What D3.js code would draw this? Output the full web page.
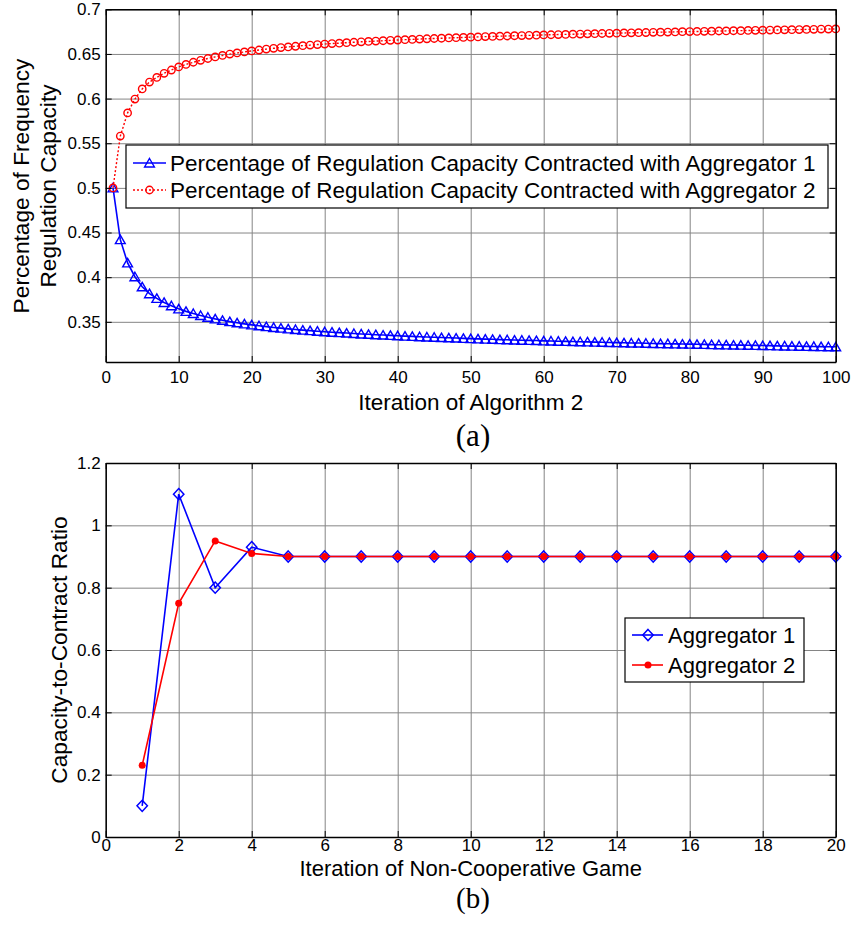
<!DOCTYPE html>
<html>
<head>
<meta charset="utf-8">
<script src="https://cdn.jsdelivr.net/npm/d3@7"></script>
<style>
  body { margin: 0; background: #fff; }
  svg text { font-family: "Liberation Sans", Arial, Helvetica, sans-serif; fill: #000; }
  svg text.caption { font-family: "Liberation Serif", "Times New Roman", serif; }
</style>
</head>
<body>
<svg id="chart" width="851" height="926"></svg>
<script>
// (a) share of regulation capacity per iteration of algorithm 2 (iterations 1..100)
const shareAgg1 = [
  0.5000, 0.4420, 0.4160, 0.4005, 0.3892, 0.3815, 0.3763, 0.3717, 0.3680, 0.3645,
  0.3617, 0.3593, 0.3571, 0.3551, 0.3533, 0.3517, 0.3502, 0.3489, 0.3477, 0.3466,
  0.3456, 0.3446, 0.3437, 0.3429, 0.3421, 0.3414, 0.3407, 0.3401, 0.3395, 0.3389,
  0.3384, 0.3379, 0.3374, 0.3369, 0.3364, 0.3360, 0.3356, 0.3352, 0.3348, 0.3344,
  0.3340, 0.3337, 0.3333, 0.3330, 0.3327, 0.3324, 0.3321, 0.3318, 0.3315, 0.3312,
  0.3309, 0.3306, 0.3304, 0.3301, 0.3299, 0.3296, 0.3294, 0.3292, 0.3290, 0.3287,
  0.3285, 0.3283, 0.3281, 0.3279, 0.3277, 0.3275, 0.3273, 0.3271, 0.3269, 0.3267,
  0.3265, 0.3263, 0.3262, 0.3260, 0.3258, 0.3256, 0.3255, 0.3253, 0.3251, 0.3250,
  0.3248, 0.3247, 0.3245, 0.3243, 0.3242, 0.3240, 0.3239, 0.3237, 0.3236, 0.3234,
  0.3233, 0.3231, 0.3230, 0.3228, 0.3227, 0.3225, 0.3224, 0.3222, 0.3221, 0.3220
];
const shareAgg2 = [
  0.5000, 0.5580, 0.5840, 0.5995, 0.6108, 0.6185, 0.6237, 0.6283, 0.6320, 0.6355,
  0.6383, 0.6407, 0.6429, 0.6449, 0.6467, 0.6483, 0.6498, 0.6511, 0.6523, 0.6534,
  0.6544, 0.6554, 0.6563, 0.6571, 0.6579, 0.6586, 0.6593, 0.6599, 0.6605, 0.6611,
  0.6616, 0.6621, 0.6626, 0.6631, 0.6636, 0.6640, 0.6644, 0.6648, 0.6652, 0.6656,
  0.6660, 0.6663, 0.6667, 0.6670, 0.6673, 0.6676, 0.6679, 0.6682, 0.6685, 0.6688,
  0.6691, 0.6694, 0.6696, 0.6699, 0.6701, 0.6704, 0.6706, 0.6708, 0.6710, 0.6713,
  0.6715, 0.6717, 0.6719, 0.6721, 0.6723, 0.6725, 0.6727, 0.6729, 0.6731, 0.6733,
  0.6735, 0.6737, 0.6738, 0.6740, 0.6742, 0.6744, 0.6745, 0.6747, 0.6749, 0.6750,
  0.6752, 0.6753, 0.6755, 0.6757, 0.6758, 0.6760, 0.6761, 0.6763, 0.6764, 0.6766,
  0.6767, 0.6769, 0.6770, 0.6772, 0.6773, 0.6775, 0.6776, 0.6778, 0.6779, 0.6780
];
const shareXTicks = [0, 10, 20, 30, 40, 50, 60, 70, 80, 90, 100];
const shareYTicks = [0.35, 0.4, 0.45, 0.5, 0.55, 0.6, 0.65, 0.7];
const shareLegend = [
  'Percentage of Regulation Capacity Contracted with Aggregator 1',
  'Percentage of Regulation Capacity Contracted with Aggregator 2'
];

// (b) capacity-to-contract ratio per iteration of the game (iterations 1..20)
const ratioAgg1 = [0.10, 1.10, 0.80, 0.93, 0.90, 0.90, 0.90, 0.90, 0.90, 0.90,
                   0.90, 0.90, 0.90, 0.90, 0.90, 0.90, 0.90, 0.90, 0.90, 0.90];
const ratioAgg2 = [0.23, 0.75, 0.95, 0.91, 0.90, 0.90, 0.90, 0.90, 0.90, 0.90,
                   0.90, 0.90, 0.90, 0.90, 0.90, 0.90, 0.90, 0.90, 0.90, 0.90];
const ratioXTicks = [0, 2, 4, 6, 8, 10, 12, 14, 16, 18, 20];
const ratioYTicks = [0, 0.2, 0.4, 0.6, 0.8, 1, 1.2];
const ratioLegend = ['Aggregator 1', 'Aggregator 2'];

const BLUE = '#0000ff';
const RED = '#ff0000';
const TRIANGLE = 'M0,-4.5L4.9,4L-4.9,4Z';
const DIAMOND = 'M0,-5.6L5.2,0L0,5.6L-5.2,0Z';

const svg = d3.select('#chart');
svg.append('rect').attr('width', 851).attr('height', 926).attr('fill', '#fff');

function drawGrid(x, y, xTicks, yTicks) {
  const [x0, x1] = x.range();
  const [y0, y1] = y.range();
  const g = svg.append('g');
  g.append('g').attr('transform', `translate(0,${y0})`)
    .call(d3.axisBottom(x).tickValues(xTicks).tickSize(-(y0 - y1)).tickFormat(''))
    .call(s => s.select('.domain').remove())
    .selectAll('line').attr('stroke', '#858585').attr('stroke-width', 1);
  g.append('g').attr('transform', `translate(${x0},0)`)
    .call(d3.axisLeft(y).tickValues(yTicks).tickSize(-(x1 - x0)).tickFormat(''))
    .call(s => s.select('.domain').remove())
    .selectAll('line').attr('stroke', '#858585').attr('stroke-width', 1);
}

function drawAxes(x, y, xTicks, yTicks, labelPad) {
  const [x0, x1] = x.range();
  const [y0, y1] = y.range();
  const g = svg.append('g');
  const style = s => {
    s.attr('font-family', null).attr('font-size', null);
    s.select('.domain').attr('stroke', '#000').attr('stroke-width', 1.5);
    s.selectAll('.tick line').attr('stroke', '#000').attr('stroke-width', 1);
    s.selectAll('text').style('font-size', '17px').attr('fill', '#000');
  };
  g.append('g').attr('transform', `translate(0,${y0})`)
    .call(d3.axisBottom(x).tickValues(xTicks).tickSize(-6).tickSizeOuter(0).tickPadding(labelPad))
    .call(style);
  g.append('g').attr('transform', `translate(0,${y1})`)
    .call(d3.axisTop(x).tickValues(xTicks).tickSize(-6).tickSizeOuter(0).tickFormat(''))
    .call(style);
  g.append('g').attr('transform', `translate(${x0},0)`)
    .call(d3.axisLeft(y).tickValues(yTicks).tickSize(-6).tickSizeOuter(0).tickPadding(5).tickFormat(d3.format('~g')))
    .call(style);
  g.append('g').attr('transform', `translate(${x1},0)`)
    .call(d3.axisRight(y).tickValues(yTicks).tickSize(-6).tickSizeOuter(0).tickFormat(''))
    .call(style);
}

// ---------- (a) ----------
const xA = d3.scaleLinear().domain([0, 100]).range([105.7, 835.7]);
const yA = d3.scaleLinear().domain([0.305, 0.7]).range([362, 9.3]);
drawGrid(xA, yA, shareXTicks, shareYTicks);

const lineA = d3.line().x((d, i) => xA(i + 1)).y(d => yA(d));
svg.append('path').datum(shareAgg1).attr('d', lineA)
  .attr('fill', 'none').attr('stroke', BLUE).attr('stroke-width', 1.6);
svg.append('g').selectAll('path').data(shareAgg1).join('path')
  .attr('d', TRIANGLE)
  .attr('transform', (d, i) => `translate(${xA(i + 1)},${yA(d)})`)
  .attr('fill', 'none').attr('stroke', BLUE).attr('stroke-width', 1.4);

svg.append('path').datum(shareAgg2).attr('d', lineA)
  .attr('fill', 'none').attr('stroke', RED).attr('stroke-width', 1.4)
  .attr('stroke-dasharray', '2,2');
svg.append('g').selectAll('circle').data(shareAgg2).join('circle')
  .attr('cx', (d, i) => xA(i + 1)).attr('cy', d => yA(d)).attr('r', 3.7)
  .attr('fill', 'none').attr('stroke', RED).attr('stroke-width', 1.4);

drawAxes(xA, yA, shareXTicks, shareYTicks, 9);

// legend (a)
const legA = svg.append('g');
legA.append('rect').attr('x', 126).attr('y', 145).attr('width', 702).attr('height', 63)
  .attr('fill', '#fff').attr('stroke', '#000').attr('stroke-width', 1.2);
shareLegend.forEach((label, i) => {
  const cy = 163 + i * 27;
  legA.append('line').attr('x1', 133).attr('x2', 166).attr('y1', cy).attr('y2', cy)
    .attr('stroke', i === 0 ? BLUE : RED).attr('stroke-width', i === 0 ? 1.6 : 1.4)
    .attr('stroke-dasharray', i === 0 ? null : '2,2');
  if (i === 0) {
    legA.append('path').attr('d', TRIANGLE).attr('transform', `translate(149.5,${cy})`)
      .attr('fill', 'none').attr('stroke', BLUE).attr('stroke-width', 1.4);
  } else {
    legA.append('circle').attr('cx', 149.5).attr('cy', cy).attr('r', 3.7)
      .attr('fill', 'none').attr('stroke', RED).attr('stroke-width', 1.4);
  }
  legA.append('text').attr('x', 170).attr('y', cy).attr('dy', '0.36em')
    .style('font-size', '22.5px').text(label);
});

svg.append('text').attr('x', 470.7).attr('y', 410).attr('text-anchor', 'middle')
  .style('font-size', '22.5px').text('Iteration of Algorithm 2');
svg.append('text').attr('transform', 'translate(29,186) rotate(-90)')
  .attr('text-anchor', 'middle').style('font-size', '22.7px').text('Percentage of Frequency');
svg.append('text').attr('transform', 'translate(56,186) rotate(-90)')
  .attr('text-anchor', 'middle').style('font-size', '22.7px').text('Regulation Capacity');
svg.append('text').attr('class', 'caption').attr('x', 473).attr('y', 446)
  .attr('text-anchor', 'middle').style('font-size', '31px').text('(a)');

// ---------- (b) ----------
const xB = d3.scaleLinear().domain([0, 20]).range([105.7, 835.7]);
const yB = d3.scaleLinear().domain([0, 1.2]).range([837, 463]);
drawGrid(xB, yB, ratioXTicks, ratioYTicks);

const lineB = d3.line().x((d, i) => xB(i + 1)).y(d => yB(d));
svg.append('path').datum(ratioAgg1).attr('d', lineB)
  .attr('fill', 'none').attr('stroke', BLUE).attr('stroke-width', 1.6);
svg.append('g').selectAll('path').data(ratioAgg1).join('path')
  .attr('d', DIAMOND)
  .attr('transform', (d, i) => `translate(${xB(i + 1)},${yB(d)})`)
  .attr('fill', 'none').attr('stroke', BLUE).attr('stroke-width', 1.5);
svg.append('path').datum(ratioAgg2).attr('d', lineB)
  .attr('fill', 'none').attr('stroke', RED).attr('stroke-width', 1.6);
svg.append('g').selectAll('circle').data(ratioAgg2).join('circle')
  .attr('cx', (d, i) => xB(i + 1)).attr('cy', d => yB(d)).attr('r', 3.5)
  .attr('fill', RED);

drawAxes(xB, yB, ratioXTicks, ratioYTicks, 2);

// legend (b)
const legB = svg.append('g');
legB.append('rect').attr('x', 625).attr('y', 618).attr('width', 179).attr('height', 64)
  .attr('fill', '#fff').attr('stroke', '#000').attr('stroke-width', 1.2);
ratioLegend.forEach((label, i) => {
  const cy = 635 + i * 30;
  const color = i === 0 ? BLUE : RED;
  legB.append('line').attr('x1', 632).attr('x2', 663).attr('y1', cy).attr('y2', cy)
    .attr('stroke', color).attr('stroke-width', 1.6);
  if (i === 0) {
    legB.append('path').attr('d', DIAMOND).attr('transform', `translate(648,${cy})`)
      .attr('fill', 'none').attr('stroke', BLUE).attr('stroke-width', 1.5);
  } else {
    legB.append('circle').attr('cx', 648).attr('cy', cy).attr('r', 3.5).attr('fill', RED);
  }
  legB.append('text').attr('x', 668).attr('y', cy).attr('dy', '0.36em')
    .style('font-size', '22px').text(label);
});

svg.append('text').attr('x', 470.7).attr('y', 876).attr('text-anchor', 'middle')
  .style('font-size', '22px').text('Iteration of Non-Cooperative Game');
svg.append('text').attr('transform', 'translate(67,650) rotate(-90)')
  .attr('text-anchor', 'middle').style('font-size', '22.7px').text('Capacity-to-Contract Ratio');
svg.append('text').attr('class', 'caption').attr('x', 473).attr('y', 908)
  .attr('text-anchor', 'middle').style('font-size', '29px').text('(b)');
</script>
</body>
</html>
